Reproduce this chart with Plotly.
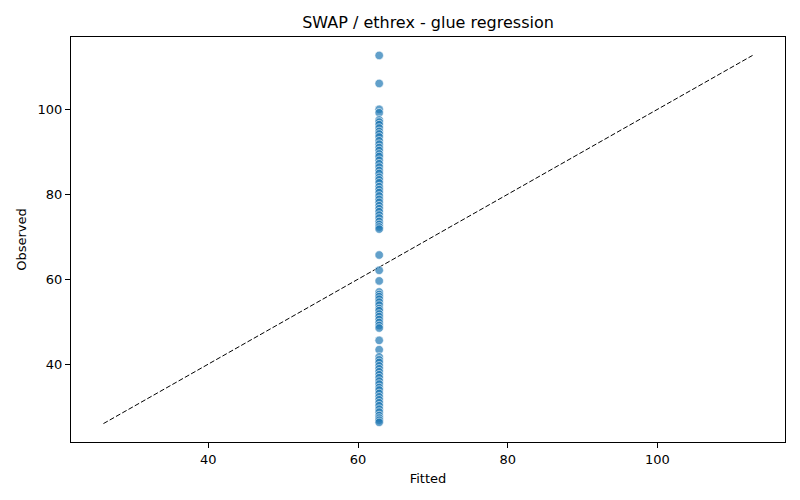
import plotly.graph_objects as go

observed = [
    112.7, 106.1,
    100.0, 99.2, 97.5, 97.0, 96.4, 95.6, 94.8, 94.2, 93.5, 92.6, 91.8, 91.0,
    90.3, 89.5, 88.9, 88.0, 87.2, 86.4, 85.6, 84.9, 84.0, 83.4, 82.7, 81.8,
    81.1, 80.4, 79.6, 78.8, 78.1, 77.3, 76.6, 75.9, 75.1, 74.4, 73.6, 72.9,
    72.3, 71.8,
    65.7, 62.1, 59.6,
    57.0, 56.4, 55.9, 55.3, 54.6, 53.9, 53.1, 52.6, 51.8, 51.2, 50.5, 49.8,
    49.1, 48.5,
    45.6, 43.4,
    41.7, 41.0, 40.4, 39.6, 38.9, 38.2, 37.5, 36.8, 36.0, 35.3, 34.5, 33.9,
    33.1, 32.3, 31.6, 30.9, 30.2, 29.4, 28.7, 27.9, 27.3, 26.8, 26.3,
]
fitted_value = 62.83
fitted = [fitted_value for _ in observed]

lo, hi = 26.0, 112.7
diag_x = [lo, hi]
diag_y = [lo, hi]

tick_vals = [40, 60, 80, 100]

fig = go.Figure()
fig.add_trace(go.Scatter(
    x=diag_x, y=diag_y, mode="lines",
    line=dict(color="black", width=1, dash="5px,2.2px"),
    showlegend=False, hoverinfo="skip",
))
fig.add_trace(go.Scatter(
    x=fitted, y=observed, mode="markers",
    marker=dict(size=8.5, color="rgba(31,119,180,0.7)",
                line=dict(color="white", width=0.6)),
    showlegend=False,
))

pad = (hi - lo) * 0.05
axis_common = dict(
    showgrid=False, zeroline=False, showline=True, linecolor="black",
    linewidth=1, mirror=True, ticks="outside", ticklen=5, tickwidth=1,
    tickcolor="black", tickvals=tick_vals, automargin=False,
    tickfont=dict(family="DejaVu Sans", size=13, color="black"),
)
fig.update_xaxes(range=[lo - pad, hi + pad],
                 title=dict(text="Fitted", font=dict(family="DejaVu Sans", size=13, color="black"), standoff=8),
                 **axis_common)
fig.update_yaxes(range=[lo - pad, hi + pad],
                 title=dict(text="Observed", font=dict(family="DejaVu Sans", size=13, color="black"), standoff=8),
                 **axis_common)

fig.update_layout(
    width=800, height=500,
    paper_bgcolor="white", plot_bgcolor="white",
    margin=dict(l=71, r=15, t=37, b=58),
    title=dict(text="SWAP / ethrex - glue regression", x=0.535, xanchor="center",
               y=0.955, yanchor="middle", automargin=False,
               font=dict(family="DejaVu Sans", size=16, color="black")),
)

# drop the default 8px body margin so the figure sits at the window origin
fig.write_html("out.html", config={"displayModeBar": False},
               post_script="document.body.style.margin='0';")
